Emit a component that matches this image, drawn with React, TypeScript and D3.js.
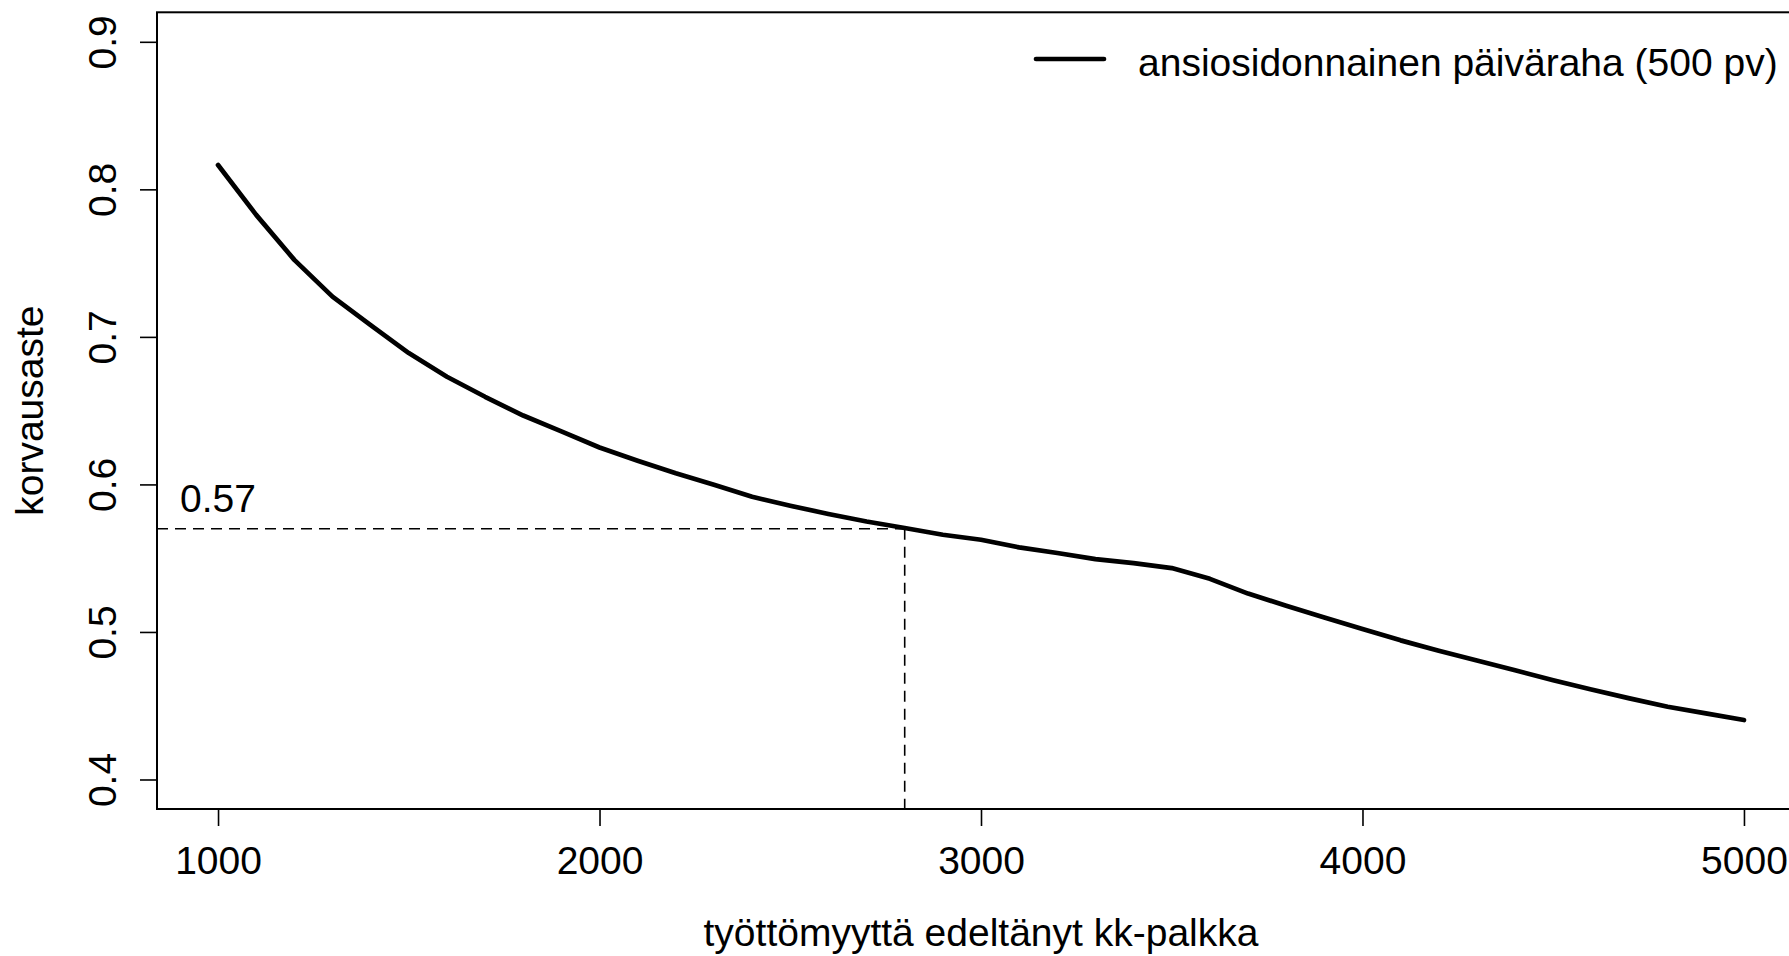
import { useEffect, useRef } from 'react';
import * as d3 from 'd3';

// monthly salary before unemployment (EUR)
const salaries = [
  1000, 1100, 1200, 1300, 1400, 1500, 1600, 1700, 1800, 1900,
  2000, 2100, 2200, 2300, 2400, 2500, 2600, 2700, 2800, 2900,
  3000, 3100, 3200, 3300, 3400, 3500, 3600, 3700, 3800, 3900,
  4000, 4100, 4200, 4300, 4400, 4500, 4600, 4700, 4800, 4900, 5000,
];

// replacement rate, earnings-related allowance (500 days)
const replacementRate = [
  0.8165, 0.7827, 0.7522, 0.7273, 0.708, 0.689, 0.673, 0.6594, 0.6467, 0.636,
  0.625, 0.616, 0.6075, 0.5997, 0.5916, 0.5855, 0.58, 0.5749, 0.5705, 0.5659,
  0.5625, 0.5573, 0.5535, 0.5494, 0.5467, 0.5433, 0.536, 0.526, 0.5178, 0.5098,
  0.502, 0.4943, 0.4873, 0.4807, 0.474, 0.4672, 0.461, 0.455, 0.4493, 0.4448, 0.4403,
];

const xTicks = [1000, 2000, 3000, 4000, 5000];
const yTicks = [0.4, 0.5, 0.6, 0.7, 0.8, 0.9];

const markSalary = 2800;
const markRate = 0.57;
const markLabel = '0.57';

const legendLabel = 'ansiosidonnainen päiväraha (500 pv)';
const xTitle = 'työttömyyttä edeltänyt kk-palkka';
const yTitle = 'korvausaste';

const W = 1789;
const H = 956;
const FONT = '"Liberation Sans", Arial, Helvetica, sans-serif';
const FS = 39;

export default function App() {
  const svgRef = useRef<SVGSVGElement>(null);

  useEffect(() => {
    if (!svgRef.current) return;
    const svg = d3.select(svgRef.current);
    svg.selectAll('*').remove();

    // R-style 4% padding around xlim c(1000,5000), ylim c(0.4,0.9)
    const x = d3.scaleLinear().domain([840, 5160]).range([157, 1805]);
    const y = d3.scaleLinear().domain([0.38, 0.92]).range([809, 12.3]);
    const [x0, x1] = x.range();
    const [y0, y1] = y.range();

    const g = svg.append('g').attr('font-family', FONT);

    // x axis
    const xa = g
      .append('g')
      .attr('transform', `translate(0,${y0})`)
      .call(d3.axisBottom(x).tickValues(xTicks).tickSize(17).tickSizeOuter(0).tickFormat((d) => String(d)))
      .attr('color', '#000');
    xa.select('.domain').remove();
    xa.selectAll('line').attr('stroke-width', 1.6);
    xa.selectAll('text')
      .attr('y', 65)
      .attr('dy', 0)
      .attr('font-size', FS)
      .attr('font-family', FONT);

    // y axis
    const ya = g
      .append('g')
      .attr('transform', `translate(${x0},0)`)
      .call(d3.axisLeft(y).tickValues(yTicks).tickSize(17).tickSizeOuter(0).tickFormat(d3.format('.1f')))
      .attr('color', '#000');
    ya.select('.domain').remove();
    ya.selectAll('line').attr('stroke-width', 1.6);
    ya.selectAll('text')
      .attr('transform', 'rotate(-90)')
      .attr('x', 0)
      .attr('y', -41)
      .attr('dy', 0)
      .attr('text-anchor', 'middle')
      .attr('font-size', FS)
      .attr('font-family', FONT);

    // plot box
    g.append('rect')
      .attr('x', x0)
      .attr('y', y1)
      .attr('width', x1 - x0)
      .attr('height', y0 - y1)
      .attr('fill', 'none')
      .attr('stroke', '#000')
      .attr('stroke-width', 2);

    // reference lines
    g.append('line')
      .attr('x1', x0)
      .attr('x2', x(markSalary))
      .attr('y1', y(markRate))
      .attr('y2', y(markRate))
      .attr('stroke', '#000')
      .attr('stroke-width', 1.6)
      .attr('stroke-dasharray', '11 7');
    g.append('line')
      .attr('x1', x(markSalary))
      .attr('x2', x(markSalary))
      .attr('y1', y(markRate))
      .attr('y2', y0)
      .attr('stroke', '#000')
      .attr('stroke-width', 1.6)
      .attr('stroke-dasharray', '11 7');
    g.append('text')
      .attr('x', x(1000))
      .attr('y', y(markRate) - 17)
      .attr('text-anchor', 'middle')
      .attr('font-size', FS)
      .text(markLabel);

    // main curve
    const pts = salaries.map((s, i) => [s, replacementRate[i]] as [number, number]);
    const line = d3
      .line<[number, number]>()
      .x((d) => x(d[0]))
      .y((d) => y(d[1]));
    g.append('path')
      .attr('d', line(pts))
      .attr('fill', 'none')
      .attr('stroke', '#000')
      .attr('stroke-width', 4.7)
      .attr('stroke-linejoin', 'round')
      .attr('stroke-linecap', 'round');

    // legend
    g.append('line')
      .attr('x1', 1036)
      .attr('x2', 1104)
      .attr('y1', 59)
      .attr('y2', 59)
      .attr('stroke', '#000')
      .attr('stroke-width', 4.7)
      .attr('stroke-linecap', 'round');
    g.append('text')
      .attr('x', 1138)
      .attr('y', 76)
      .attr('font-size', FS)
      .text(legendLabel);

    // axis titles
    g.append('text')
      .attr('x', (x0 + x1) / 2)
      .attr('y', 946)
      .attr('text-anchor', 'middle')
      .attr('font-size', FS)
      .text(xTitle);
    g.append('text')
      .attr('transform', `translate(43,${(y0 + y1) / 2}) rotate(-90)`)
      .attr('text-anchor', 'middle')
      .attr('font-size', FS)
      .text(yTitle);
  }, []);

  return (
    <div style={{ position: 'fixed', left: 0, top: 0, width: W, height: H, background: '#fff', overflow: 'hidden' }}>
      <svg ref={svgRef} width={W} height={H} style={{ display: 'block' }} />
    </div>
  );
}
